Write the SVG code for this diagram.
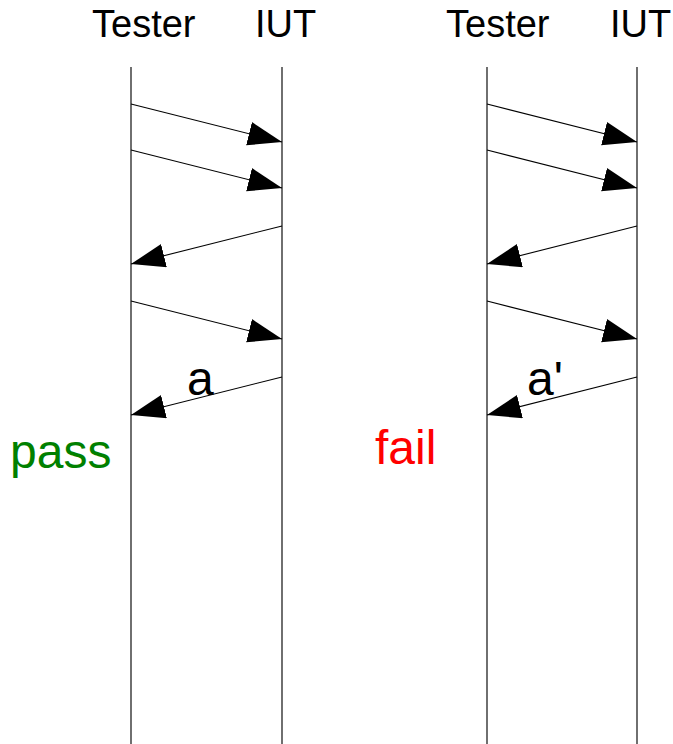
<svg xmlns="http://www.w3.org/2000/svg" width="673" height="744" viewBox="0 0 673 744">
  <style>
    .label { font-family: "Liberation Sans", Arial, sans-serif; font-size: 38px; fill: #000; }
    .msg { font-family: "Liberation Sans", Arial, sans-serif; font-size: 48px; fill: #000; }
    .verdict { font-family: "Liberation Sans", Arial, sans-serif; font-size: 48px; }
    .life { stroke: #333; stroke-width: 1.4; fill: none; }
    .arrow { stroke: #000; stroke-width: 1.1; fill: none; marker-end: url(#head); }
  </style>
  <defs>
    <marker id="head" markerUnits="userSpaceOnUse" markerWidth="40" markerHeight="30" refX="34" refY="12" orient="auto">
      <path d="M34,12 L0,0 L0,24 Z" fill="#000"/>
    </marker>
  </defs>
  <rect width="673" height="744" fill="#fff"/>

  <!-- left scenario -->
  <g id="tester-left">
    <text class="label" x="92" y="37">Tester</text>
    <line class="life" x1="131" y1="67" x2="131" y2="744"/>
  </g>
  <g id="iut-left">
    <text class="label" x="255" y="37">IUT</text>
    <line class="life" x1="282" y1="67" x2="282" y2="744"/>
  </g>

  <!-- right scenario -->
  <g id="tester-right">
    <text class="label" x="446" y="37">Tester</text>
    <line class="life" x1="487" y1="67" x2="487" y2="744"/>
  </g>
  <g id="iut-right">
    <text class="label" x="610" y="37">IUT</text>
    <line class="life" x1="637" y1="67" x2="637" y2="744"/>
  </g>

  <g id="connectors">
    <line class="arrow" x1="131" y1="104" x2="282" y2="142"/>
    <line class="arrow" x1="131" y1="150" x2="282" y2="188"/>
    <line class="arrow" x1="282" y1="226" x2="131" y2="264"/>
    <line class="arrow" x1="131" y1="301" x2="282" y2="339"/>
    <line class="arrow" x1="282" y1="377" x2="131" y2="415"/>

    <line class="arrow" x1="487" y1="104" x2="637" y2="142"/>
    <line class="arrow" x1="487" y1="150" x2="637" y2="188"/>
    <line class="arrow" x1="637" y1="226" x2="487" y2="264"/>
    <line class="arrow" x1="487" y1="301" x2="637" y2="339"/>
    <line class="arrow" x1="637" y1="377" x2="487" y2="415"/>
  </g>

  <g id="labels">
    <text class="msg" x="187" y="395">a</text>
    <text class="msg" x="527" y="395">a'</text>
    <text class="verdict" x="10" y="468" fill="#008000">pass</text>
    <text class="verdict" x="375" y="464" fill="#ff0000">fail</text>
  </g>
</svg>
